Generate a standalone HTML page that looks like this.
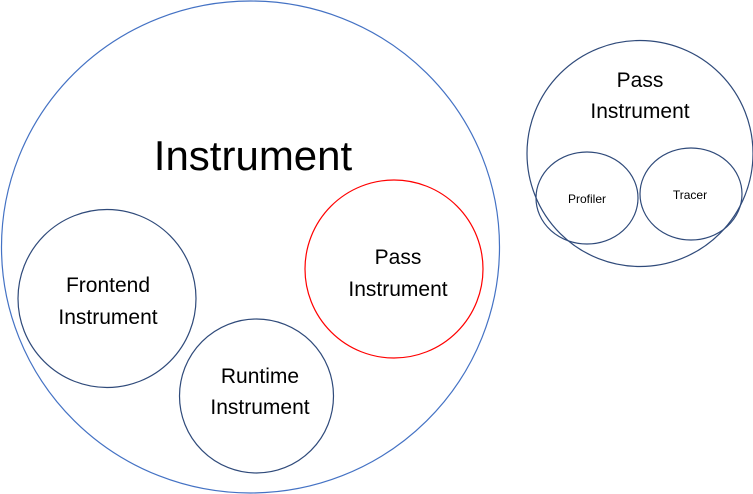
<!DOCTYPE html>
<html><head><style>
html,body{margin:0;padding:0;background:#fff;}
svg{display:block;}
text{font-family:"Liberation Sans",sans-serif;fill:#000;text-anchor:middle;}
</style></head><body>
<svg width="753" height="494" viewBox="0 0 753 494" xmlns="http://www.w3.org/2000/svg">
<ellipse cx="250.5" cy="247" rx="249" ry="246" fill="none" stroke="#4472C4" stroke-width="1.2"/>
<text x="253" y="170" font-size="42">Instrument</text>
<circle cx="107" cy="298.5" r="89" fill="none" stroke="#2F4A7A" stroke-width="1.2"/>
<text x="108" y="292" font-size="21">Frontend</text>
<text x="108" y="324" font-size="21">Instrument</text>
<circle cx="256.5" cy="396" r="77" fill="none" stroke="#2F4A7A" stroke-width="1.2"/>
<text x="260" y="383" font-size="21">Runtime</text>
<text x="260" y="414" font-size="21">Instrument</text>
<circle cx="394" cy="269" r="89" fill="none" stroke="#FF0000" stroke-width="1.2"/>
<text x="398" y="264" font-size="21">Pass</text>
<text x="398" y="296" font-size="21">Instrument</text>
<circle cx="640" cy="153.5" r="113" fill="none" stroke="#2F4A7A" stroke-width="1.2"/>
<text x="640" y="87" font-size="21">Pass</text>
<text x="640" y="118" font-size="21">Instrument</text>
<ellipse cx="587" cy="198" rx="51" ry="46" fill="none" stroke="#2F4A7A" stroke-width="1.2"/>
<text x="587" y="203" font-size="12">Profiler</text>
<ellipse cx="691" cy="194" rx="51" ry="46" fill="none" stroke="#2F4A7A" stroke-width="1.2"/>
<text x="690" y="199" font-size="12">Tracer</text>
</svg>
</body></html>
